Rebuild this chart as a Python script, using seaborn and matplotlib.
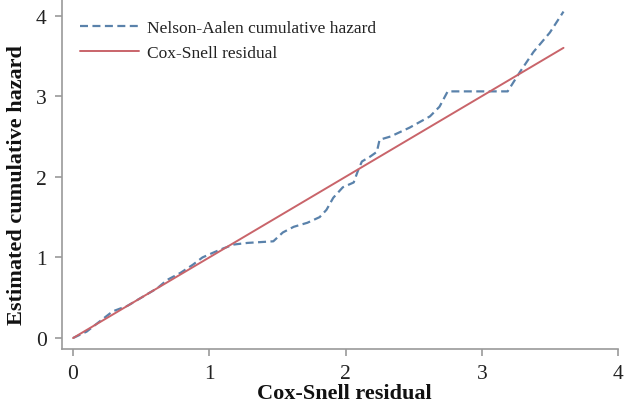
import matplotlib
matplotlib.use("Agg")
import matplotlib.pyplot as plt
import seaborn as sns
import numpy as np

# Nelson-Aalen cumulative hazard of the Cox-Snell residuals
na_x = [0.0, 0.10, 0.29, 0.40, 0.51, 0.62, 0.69, 0.79, 0.88, 0.95, 1.03, 1.10,
        1.18, 1.28, 1.47, 1.54, 1.62, 1.72, 1.81, 1.86, 1.91, 1.98, 2.06, 2.09,
        2.12, 2.18, 2.23, 2.25, 2.33, 2.47, 2.62, 2.69, 2.75, 3.19, 3.28, 3.38,
        3.50, 3.60]
na_y = [0.0, 0.08, 0.33, 0.40, 0.51, 0.62, 0.72, 0.81, 0.91, 1.00, 1.06, 1.11,
        1.16, 1.18, 1.20, 1.31, 1.38, 1.43, 1.50, 1.59, 1.74, 1.87, 1.93, 2.07,
        2.19, 2.25, 2.31, 2.46, 2.50, 2.61, 2.75, 2.87, 3.06, 3.06, 3.30, 3.55,
        3.79, 4.05]

# reference line (45 degree)
ref_x = [0.0, 3.6]
ref_y = [0.0, 3.6]

ticks = [0, 1, 2, 3, 4]


def main():
    sns.set_theme(style="ticks")
    plt.rcParams["font.family"] = ["Liberation Serif", "DejaVu Serif"]

    fig = plt.figure(figsize=(6.28, 4.06), dpi=100)
    ax = fig.add_axes([62 / 628, 56 / 406, 556 / 628, 350 / 406])

    sns.lineplot(x=na_x, y=na_y, ax=ax, color="#5a82ab", linewidth=1.6,
                 dashes=False, sort=False, estimator=None,
                 label="Nelson-Aalen cumulative hazard")
    ax.lines[-1].set_dashes((3.6, 2.0))
    sns.lineplot(x=ref_x, y=ref_y, ax=ax, color="#c9646a", linewidth=1.4,
                 sort=False, estimator=None, label="Cox-Snell residual")

    ax.set_xlim(-0.081, 4.0)
    ax.set_ylim(-0.136, 4.206)
    ax.set_xticks(ticks)
    ax.set_yticks(ticks)

    sns.despine(ax=ax)
    for s in ["left", "bottom"]:
        ax.spines[s].set_color("#9a9a9a")
        ax.spines[s].set_linewidth(1.2)
    ax.tick_params(axis="both", colors="#9a9a9a", length=5, width=1.2,
                   labelsize=15.5, labelcolor="#222222", pad=6)

    ax.set_xlabel("Cox-Snell residual", fontsize=16, fontweight="bold",
                  color="#111111")
    ax.set_ylabel("Estimated cumulative hazard", fontsize=16, fontweight="bold",
                  color="#111111")
    ax.xaxis.set_label_coords(0.507, -0.098)
    ax.yaxis.set_label_coords(-0.063, 0.47)

    leg = ax.legend(loc="upper left", bbox_to_anchor=(80 / 628, 1 - 21 / 406),
                    bbox_transform=fig.transFigure, frameon=False, fontsize=12.5,
                    borderpad=0, borderaxespad=0, handlelength=3.4,
                    handletextpad=0.46, labelspacing=0.5)
    for t in leg.get_texts():
        t.set_color("#222222")

    fig.savefig("out.png", dpi=100)


if __name__ == "__main__":
    main()
